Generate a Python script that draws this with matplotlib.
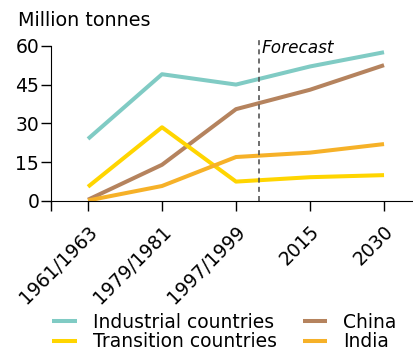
import matplotlib
matplotlib.use('Agg')
import matplotlib.pyplot as plt

periods = ['1961/1963', '1979/1981', '1997/1999', '2015', '2030']
industrial = [24, 49, 45, 52, 57.5]
transition = [5.5, 28.5, 7.5, 9.2, 10]
china = [0.5, 14, 35.5, 43, 52.5]
india = [0.2, 5.8, 17, 18.7, 22]

series = [
    ('Industrial countries', industrial, '#80cbc4'),
    ('China', china, '#b5835e'),
    ('Transition countries', transition, '#ffd500'),
    ('India', india, '#f6b128'),
]

plt.rcParams['font.family'] = 'DejaVu Sans'
plt.rcParams['font.size'] = 13.5

fig = plt.figure(figsize=(4.14, 3.51), dpi=100)
ax = fig.add_axes([51 / 414, 1 - 201 / 351, 1 - 51 / 414, 163 / 351])

x = list(range(len(periods)))
lines = {}
for name, vals, col in series:
    lines[name], = ax.plot(x, vals, color=col, lw=2.9, solid_capstyle='butt',
                           label=name)

# forecast divider
ax.axvline(2.31, color='#555555', lw=1.2, ls=(0, (3, 2.5)), ymax=0.985)
ax.text(2.35, 59.2, 'Forecast', style='italic', fontsize=12.2, va='center',
        ha='left')

ax.set_xlim(-0.5, 4.405)
ax.set_ylim(0, 63)
ax.set_yticks([0, 15, 30, 45, 60])
ax.set_xticks(x)
ax.set_xticklabels(periods, rotation=45, ha='right', va='top',
                   rotation_mode='anchor')
ax.set_xticks([-0.5], minor=True)
ax.tick_params(axis='x', which='both', length=7, width=1, pad=8)
ax.tick_params(axis='y', length=7.5, width=1, pad=1)
for s in ['top', 'right']:
    ax.spines[s].set_visible(False)
ax.spines['left'].set_bounds(0, 60)
ax.patch.set_visible(False)

fig.text(18 / 414, 1 - 20 / 351, 'Million tonnes', fontsize=13.8, va='center')

order = ['Industrial countries', 'Transition countries', 'China', 'India']
fig.legend([lines[n] for n in order], order, ncol=2, frameon=False,
           loc='lower left', bbox_to_anchor=(43 / 414, -0.028),
           handlelength=1.3, handletextpad=0.85, columnspacing=1.4,
           labelspacing=0.05, borderaxespad=0.1, fontsize=13.5)

fig.savefig('out.png', dpi=100)
